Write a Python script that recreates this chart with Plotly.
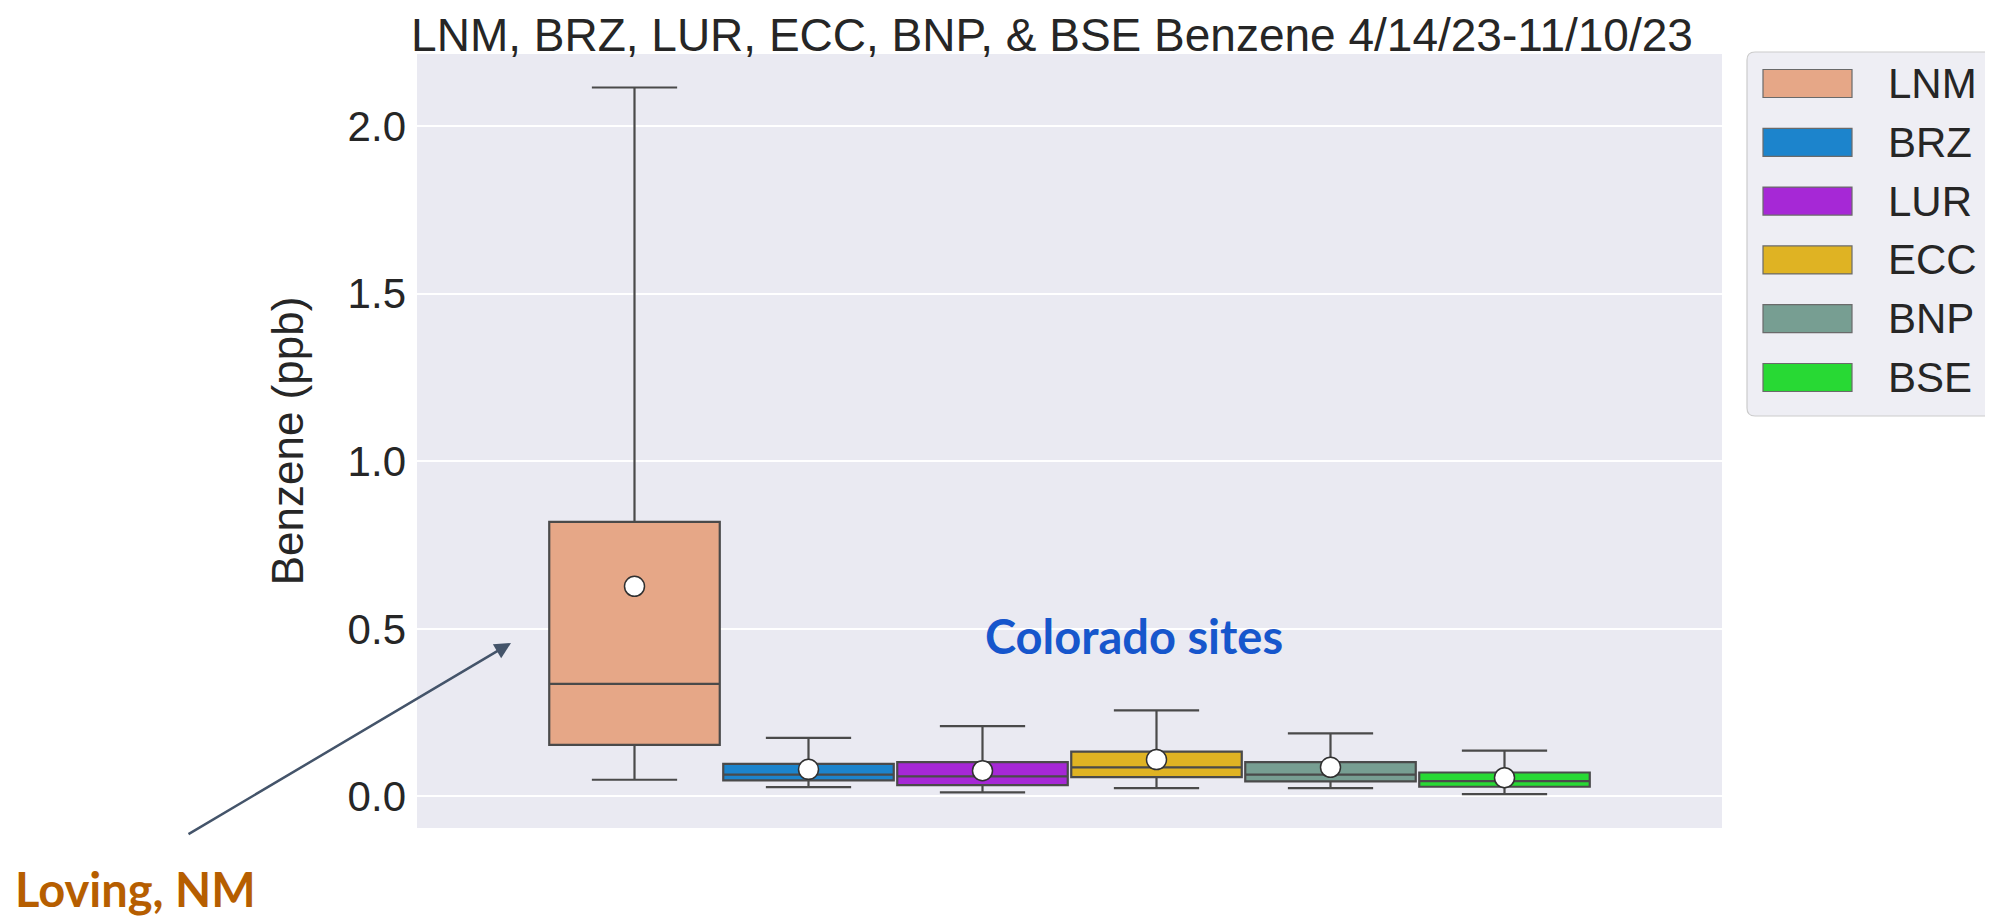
import plotly.graph_objects as go

# ---- data ----
sites = ["LNM", "BRZ", "LUR", "ECC", "BNP", "BSE"]
colors = ["#E6A787", "#1C84CC", "#A628D6", "#DFB323", "#779E92", "#28D934"]
upper_whisker = [2.115, 0.175, 0.210, 0.257, 0.188, 0.137]
q3_values = [0.819, 0.0975, 0.1025, 0.134, 0.1025, 0.0716]
median_values = [0.336, 0.065, 0.060, 0.087, 0.065, 0.046]
q1_values = [0.154, 0.048, 0.034, 0.058, 0.045, 0.029]
lower_whisker = [0.050, 0.028, 0.012, 0.025, 0.025, 0.007]
mean_values = [0.627, 0.081, 0.077, 0.110, 0.087, 0.056]
y_ticks = [0.0, 0.5, 1.0, 1.5, 2.0]

TITLE = "LNM, BRZ, LUR, ECC, BNP, & BSE Benzene 4/14/23-11/10/23"
FONT = "Arial, Liberation Sans, sans-serif"
TEXT = "#262626"
EDGE = "#4a4a4a"

OFF = 8  # default page margin of the html body
W, H = 1985, 914
ML, MR, MT, MB = 409, 271, 46, 94
PW, PH = W - ML - MR, H - MT - MB

def px_x(x):
    """viewport pixel x -> paper coordinate"""
    return (x - OFF - ML) / PW

def px_y(y):
    """viewport pixel y -> paper coordinate"""
    return (H - MB - (y - OFF)) / PH

fig = go.Figure()
for i, s in enumerate(sites):
    fig.add_trace(go.Box(
        x=[s], q1=[q1_values[i]], median=[median_values[i]], q3=[q3_values[i]],
        lowerfence=[lower_whisker[i]], upperfence=[upper_whisker[i]],
        name=s, fillcolor=colors[i], line=dict(color=EDGE, width=2.2),
        width=0.98, whiskerwidth=0.5, boxpoints=False, showlegend=False,
    ))

fig.add_trace(go.Scatter(
    x=sites, y=mean_values, mode="markers", showlegend=False,
    marker=dict(color="white", size=20, line=dict(color="#303030", width=1.5)),
))

shapes = []
annotations = []

# legend drawn manually (large swatches like the reference)
lx0, lx1, ly0, ly1 = 1747, 2000, 52, 416
r = 8
rx, ry = r / PW, r / PH
x0, x1, y0, y1 = px_x(lx0), px_x(lx1), px_y(ly1), px_y(ly0)
path = (f"M {x0+rx},{y0} L {x1-rx},{y0} Q {x1},{y0} {x1},{y0+ry} "
        f"L {x1},{y1-ry} Q {x1},{y1} {x1-rx},{y1} L {x0+rx},{y1} "
        f"Q {x0},{y1} {x0},{y1-ry} L {x0},{y0+ry} Q {x0},{y0} {x0+rx},{y0} Z")
shapes.append(dict(type="path", path=path, xref="paper", yref="paper",
                   fillcolor="#EEEEF4", line=dict(color="#CCCCCC", width=1.2)))
row0, step = 83.5, 58.8
for i, s in enumerate(sites):
    cy = row0 + i * step
    shapes.append(dict(type="rect", xref="paper", yref="paper",
                       x0=px_x(1763), x1=px_x(1852), y0=px_y(cy + 14), y1=px_y(cy - 14),
                       fillcolor=colors[i], line=dict(color="#6a6a6a", width=1.2)))
    annotations.append(dict(text=s, xref="paper", yref="paper", x=px_x(1886), y=px_y(cy),
                            xanchor="left", yanchor="middle", showarrow=False,
                            font=dict(family=FONT, size=42, color=TEXT)))

annotations.append(dict(text="<b>Colorado sites</b>", xref="paper", yref="paper",
                        x=px_x(1134), y=px_y(636), xanchor="center", yanchor="middle",
                        showarrow=False, font=dict(family="Lato, Open Sans, sans-serif", size=47, color="#1656CC")))
annotations.append(dict(text="<b>Loving, NM</b>", xref="paper", yref="paper",
                        x=px_x(13), y=px_y(889), xanchor="left", yanchor="middle",
                        showarrow=False, font=dict(family="Lato, Open Sans, sans-serif", size=47, color="#B65E00")))
annotations.append(dict(text="", xref="paper", yref="paper", x=px_x(511), y=px_y(643),
                        ax=187 - 511, ay=835 - 643, axref="pixel", ayref="pixel",
                        showarrow=True, arrowhead=2, arrowsize=1.3, arrowwidth=2.5,
                        arrowcolor="#44546A"))

fig.update_layout(
    width=W, height=H,
    margin=dict(l=ML, r=MR, t=MT, b=MB, autoexpand=False),
    paper_bgcolor="white", plot_bgcolor="#EAEAF2",
    title=dict(text=TITLE, x=px_x(1052), xref="paper", xanchor="center",
               y=1, yref="paper", yanchor="bottom", pad=dict(b=3),
               font=dict(family=FONT, size=46, color=TEXT)),
    showlegend=False,
    shapes=shapes, annotations=annotations,
    boxmode="overlay",
)
fig.update_xaxes(type="category", categoryorder="array", categoryarray=sites,
                 range=[-1.25, 6.25], showticklabels=False, showgrid=False,
                 zeroline=False, ticks="", showline=False)
fig.update_yaxes(range=[-0.094, 2.215], tickvals=y_ticks, tickformat=".1f",
                 showgrid=True, gridcolor="white", gridwidth=1.5, zeroline=False,
                 ticks="", showline=False, automargin=False,
                 tickfont=dict(family=FONT, size=42, color=TEXT),
                 ticklabelstandoff=10,
                 title=dict(text="Benzene (ppb)", standoff=30,
                            font=dict(family=FONT, size=44, color=TEXT)))

fig.write_html("out.html")
